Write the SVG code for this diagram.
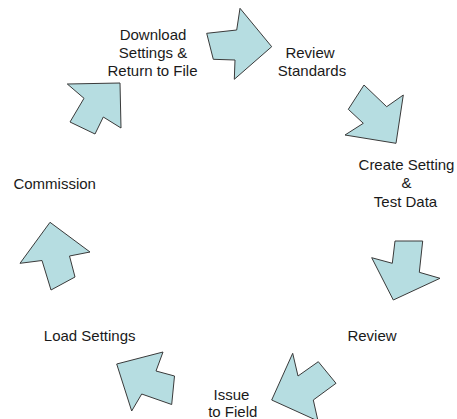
<svg xmlns="http://www.w3.org/2000/svg" width="457" height="419" viewBox="0 0 457 419">
<style>
.arr{fill:#b6dde1;stroke:#3a3a3a;stroke-width:1;stroke-linejoin:miter}
.t{font-family:"Liberation Sans",Arial,sans-serif;font-size:15px;fill:#1a1a1a;text-anchor:middle}
</style>
<rect width="457" height="419" fill="#ffffff"/>
<g id="connectors">
<polygon class="arr" points="206.7,33.3 236.7,30 240,8.3 271.7,46.7 234.3,79.3 235,60 213.3,59.3"/>
<polygon class="arr" points="364,85 386.7,106.7 403.3,95 396,143.3 345,135 363.3,123.3 348.3,109.3"/>
<polygon class="arr" points="395,241 422.7,241 419.3,272.3 440,278.3 393.3,300 371.7,257.7 392.3,263.3"/>
<polygon class="arr" points="271.7,400 292.7,353.3 298,376 318.3,361.7 336,383.3 313.3,400 318,421"/>
<polygon class="arr" points="116.7,364 163,352 156,371 174.5,376 171.7,404.5 141.7,394 131.7,411"/>
<polygon class="arr" points="50,222.3 90,252 69.5,256 75,277 51,290 42,260.5 20,263.3"/>
<polygon class="arr" points="67.3,84 120,83 121,128 103.3,117 95,134 70,122 84,98.3"/>
</g>
<g id="node-download"><text class="t" x="153" y="39.5">Download</text><text class="t" x="153" y="57.5">Settings &amp;</text><text class="t" x="152.5" y="75.5">Return to File</text></g>
<g id="node-review-standards"><text class="t" x="310" y="58.3">Review</text><text class="t" x="312" y="76">Standards</text></g>
<g id="node-create"><text class="t" x="406.5" y="170">Create Setting</text><text class="t" x="406.5" y="188.3">&amp;</text><text class="t" x="405.5" y="206.5">Test Data</text></g>
<g id="node-review"><text class="t" x="372" y="340.7">Review</text></g>
<g id="node-issue"><text class="t" x="231.5" y="400">Issue</text><text class="t" x="232.8" y="417">to Field</text></g>
<g id="node-load"><text class="t" x="89.7" y="340.7">Load Settings</text></g>
<g id="node-commission"><text class="t" x="54.7" y="189.3">Commission</text></g>
</svg>
